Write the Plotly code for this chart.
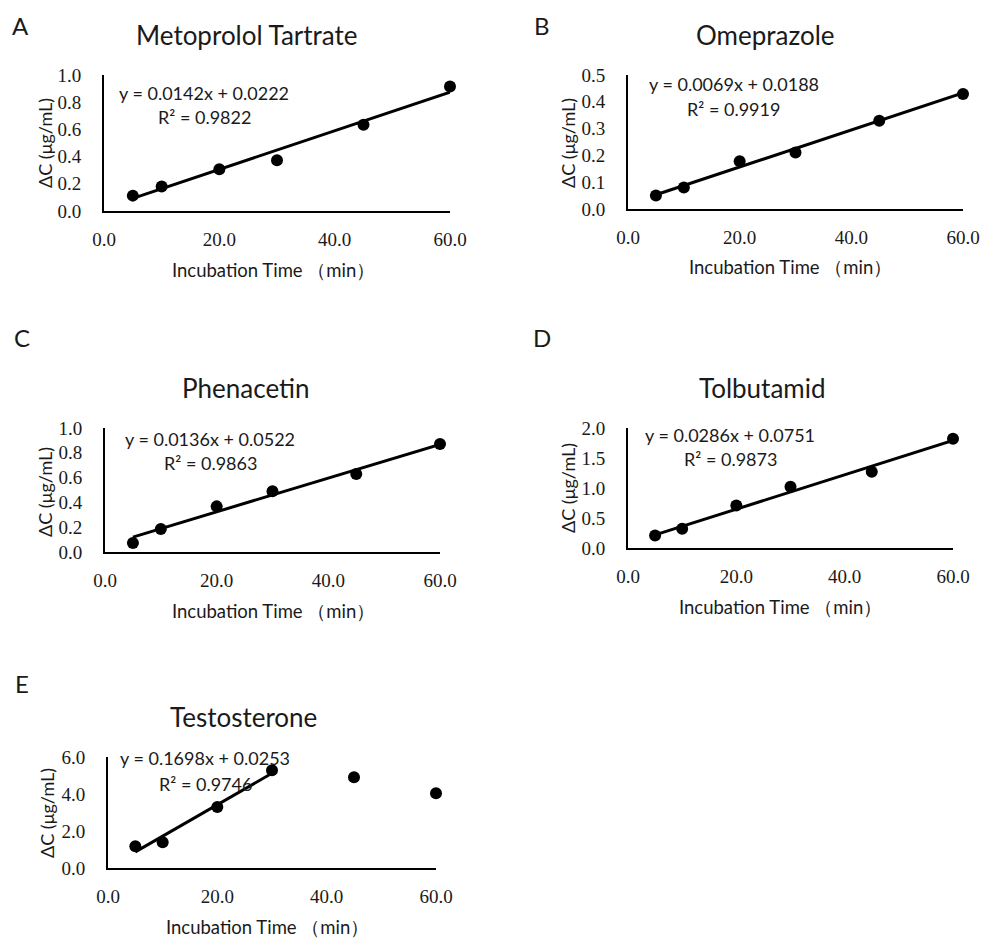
import plotly.graph_objects as go

W, H = 981, 939

times = [5, 10, 20, 30, 45, 60]

titles = ["Metoprolol Tartrate", "Omeprazole", "Phenacetin", "Tolbutamid", "Testosterone"]
letters = ["A", "B", "C", "D", "E"]

y_metoprolol = [0.113, 0.18, 0.307, 0.373, 0.634, 0.916]
y_omeprazole = [0.050, 0.080, 0.178, 0.211, 0.329, 0.429]
y_phenacetin = [0.073, 0.185, 0.368, 0.489, 0.629, 0.871]
y_tolbutamid = [0.21, 0.32, 0.71, 1.02, 1.27, 1.82]
y_testosterone = [1.17, 1.39, 3.30, 5.28, 4.90, 4.04]
series = [y_metoprolol, y_omeprazole, y_phenacetin, y_tolbutamid, y_testosterone]

slopes = [0.0142, 0.0069, 0.0136, 0.0286, 0.1698]
intercepts = [0.0222, 0.0188, 0.0522, 0.0751, 0.0253]
r2 = ["0.9822", "0.9919", "0.9863", "0.9873", "0.9746"]
fit_ranges = [(5, 60), (5, 60), (5, 60), (5, 60), (5, 30)]

y_max = [1.0, 0.5, 1.0, 2.0, 6.0]
y_dtick = [0.2, 0.1, 0.2, 0.5, 2.0]
x_ticks = [0, 20, 40, 60]

# layout geometry in pixels: (left, right, top, bottom)
boxes = [(104, 450, 75, 211), (628, 963, 75, 209), (105, 440, 428, 552),
         (628, 953, 428, 548), (108, 436, 757, 868)]
title_pos = [(247, 35), (765, 35), (246, 388), (762, 388), (243, 717)]
letter_pos = [(20, 25), (542, 25), (22, 337), (542, 337), (22, 683)]
eq_pos = [(117, 93), (647, 84), (123, 439), (643, 435), (118, 758)]
r2_pos = [(156, 117), (685, 109), (162, 463), (682, 459), (157, 784)]
xt_pos = [(273, 270), (790, 267), (273, 611), (780, 607), (267, 927)]
yt_pos = [(45, 143), (568, 143), (45, 492), (568, 488), (47, 813)]

px = lambda x: x / W
py = lambda y: 1 - y / H

SANS = "Lato, Open Sans, sans-serif"
SERIF = "Liberation Serif, DejaVu Serif, serif"
TXT = "#1a1a1a"

fig = go.Figure()
annotations = []
for i in range(5):
    n = i + 1
    xa = "x" if n == 1 else f"x{n}"
    ya = "y" if n == 1 else f"y{n}"
    fig.add_trace(go.Scatter(x=times, y=series[i], mode="markers", xaxis=xa, yaxis=ya,
                             marker=dict(color="black", size=12), showlegend=False, cliponaxis=False))
    x0, x1 = fit_ranges[i]
    fig.add_trace(go.Scatter(x=[x0, x1], y=[slopes[i] * x0 + intercepts[i], slopes[i] * x1 + intercepts[i]],
                             mode="lines", xaxis=xa, yaxis=ya, line=dict(color="black", width=3),
                             showlegend=False, cliponaxis=False))
    l, r, t, b = boxes[i]
    axkey = "xaxis" if n == 1 else f"xaxis{n}"
    aykey = "yaxis" if n == 1 else f"yaxis{n}"
    fig.update_layout(**{
        axkey: dict(domain=[px(l), px(r)], range=[0, 60], tickvals=x_ticks, tickformat=".1f",
                    showline=True, linecolor="black", linewidth=2, showgrid=False, zeroline=False,
                    anchor=ya, ticks="outside", ticklen=10, tickcolor="rgba(0,0,0,0)",
                    automargin=False,
                    tickfont=dict(family=SERIF, size=19, color=TXT)),
        aykey: dict(domain=[py(b), py(t)], range=[0, y_max[i]], dtick=y_dtick[i], tickformat=".1f",
                    showline=True, linecolor="black", linewidth=2, showgrid=False, zeroline=False,
                    anchor=xa, ticks="outside", ticklen=17, tickcolor="rgba(0,0,0,0)",
                    automargin=False,
                    tickfont=dict(family=SERIF, size=19, color=TXT)),
    })
    annotations += [
        dict(text=titles[i], x=px(title_pos[i][0]), y=py(title_pos[i][1]), xref="paper", yref="paper",
             showarrow=False, xanchor="center", yanchor="middle", font=dict(family=SANS, size=26, color=TXT)),
        dict(text=letters[i], x=px(letter_pos[i][0]), y=py(letter_pos[i][1]), xref="paper", yref="paper",
             showarrow=False, xanchor="center", yanchor="middle", font=dict(family=SANS, size=24, color=TXT)),
        dict(text=f"y = {slopes[i]:.4f}x + {intercepts[i]:.4f}", x=px(eq_pos[i][0]), y=py(eq_pos[i][1]),
             xref="paper", yref="paper", showarrow=False, xanchor="left", yanchor="middle",
             font=dict(family=SANS, size=18, color=TXT)),
        dict(text=f"R² = {r2[i]}", x=px(r2_pos[i][0]), y=py(r2_pos[i][1]),
             xref="paper", yref="paper", showarrow=False, xanchor="left", yanchor="middle",
             font=dict(family=SANS, size=18, color=TXT)),
        dict(text="Incubation Time （min）", x=px(xt_pos[i][0]), y=py(xt_pos[i][1]),
             xref="paper", yref="paper", showarrow=False, xanchor="center", yanchor="middle",
             font=dict(family=SANS, size=18.5, color=TXT)),
        dict(text="ΔC (μg/mL)", x=px(yt_pos[i][0]), y=py(yt_pos[i][1]), textangle=-90,
             xref="paper", yref="paper", showarrow=False, xanchor="center", yanchor="middle",
             font=dict(family=SANS, size=18, color=TXT)),
    ]

fig.update_layout(width=W, height=H, margin=dict(l=0, r=0, t=0, b=0, pad=0),
                  plot_bgcolor="white", paper_bgcolor="white", annotations=annotations,
                  hovermode=False)
fig.write_html("out.html", config={"displayModeBar": False, "staticPlot": True},
               post_script="document.body.style.margin='0px';document.body.style.overflow='hidden';")
